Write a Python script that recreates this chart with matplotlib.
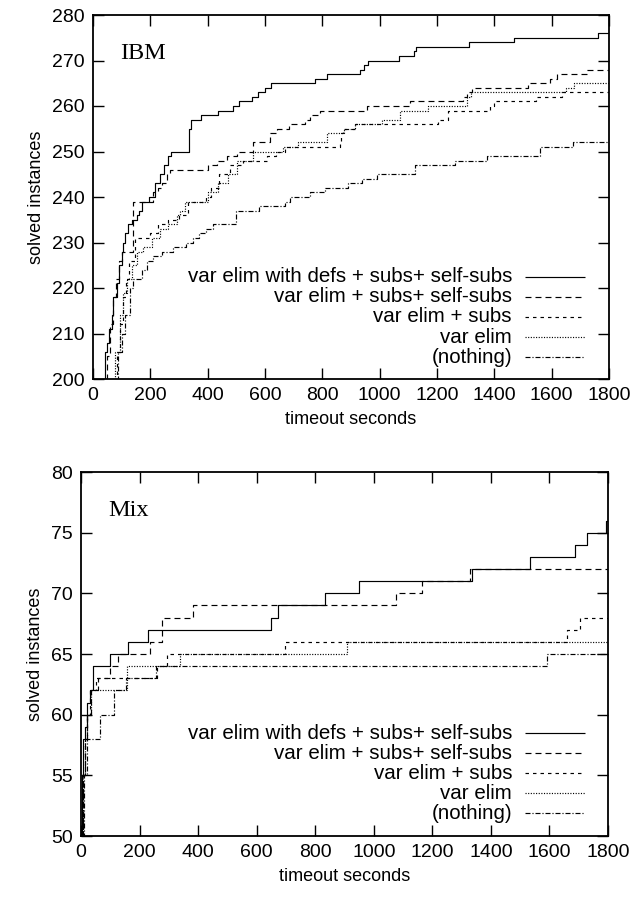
import matplotlib
matplotlib.use('Agg')
import matplotlib.pyplot as plt

plt.rcParams['font.family'] = ['Liberation Sans', 'DejaVu Sans']
plt.rcParams['lines.scale_dashes'] = False

labels = ["var elim with defs + subs+ self-subs", "var elim + subs+ self-subs",
          "var elim + subs", "var elim", "(nothing)"]

# ---- IBM ----
ibm_defs_x = [40, 42, 50, 56, 65, 71, 82, 92, 100, 106, 112, 121, 135, 152, 162, 170, 197, 216, 234, 248,
              260, 272, 334, 342, 377, 435, 490, 510, 553, 577, 600, 620, 775, 818, 932, 947, 958, 1067,
              1120, 1127, 1311, 1467, 1760]
ibm_defs_y = [200, 206, 208, 211, 214, 218, 221, 225, 228, 230, 232, 234, 235, 236, 237, 239, 240, 243, 245, 247,
              249, 250, 255, 257, 258, 259, 260, 261, 262, 263, 264, 265, 266, 267, 268, 269, 270, 271,
              272, 273, 274, 275, 276]

ibm_self_x = [45, 50, 60, 70, 80, 90, 100, 140, 210, 228, 240, 257, 269, 402, 431, 466, 501, 559, 618, 641,
              682, 740, 757, 792, 955, 1106, 1292, 1303, 1321, 1519, 1594, 1617, 1722]
ibm_self_y = [200, 205, 212, 218, 222, 226, 228, 239, 241, 242, 243, 245, 246, 247, 248, 249, 250, 252, 254, 255,
              256, 257, 258, 259, 260, 261, 262, 263, 264, 265, 266, 267, 268]

ibm_subs_x = [74, 85, 95, 105, 115, 125, 146, 199, 228, 260, 300, 330, 395, 410, 440, 478, 524, 606, 640, 670,
              862, 866, 873, 914, 1204, 1240, 1385, 1400, 1545, 1635]
ibm_subs_y = [200, 206, 212, 218, 222, 226, 231, 232, 234, 235, 236, 239, 240, 242, 245, 247, 248, 249, 250, 251,
              252, 254, 255, 256, 257, 259, 260, 261, 262, 263]

ibm_elim_x = [68, 77, 94, 106, 117, 135, 152, 176, 205, 234, 260, 292, 304, 321, 402, 437, 472, 501, 559, 664,
              716, 815, 874, 914, 1007, 1071, 1170, 1303, 1320, 1649, 1678]
ibm_elim_y = [200, 206, 214, 219, 222, 225, 228, 229, 231, 233, 234, 236, 237, 239, 241, 243, 245, 248, 250, 251,
              252, 254, 255, 256, 257, 259, 260, 262, 263, 264, 265]

ibm_none_x = [80, 88, 100, 112, 129, 141, 170, 187, 210, 240, 278, 325, 348, 371, 394, 417, 498, 580, 670, 687,
              757, 809, 891, 937, 990, 1123, 1263, 1373, 1559, 1676]
ibm_none_y = [200, 206, 210, 214, 220, 222, 224, 226, 227, 228, 229, 230, 231, 232, 233, 234, 237, 238, 239, 240,
              241, 242, 243, 244, 245, 247, 248, 249, 251, 252]

# ---- Mix ----
mix_defs_x = [2, 5, 8, 14, 19, 31, 42, 99, 162, 230, 648, 674, 834, 948, 1334, 1534, 1688, 1727, 1792]
mix_defs_y = [50, 55, 58, 59, 61, 62, 64, 65, 66, 67, 68, 69, 70, 71, 72, 73, 74, 75, 76]

mix_self_x = [3, 8, 12, 20, 35, 58, 98, 126, 235, 275, 383, 1075, 1164, 1330]
mix_self_y = [50, 55, 58, 60, 62, 63, 64, 65, 66, 68, 69, 70, 71, 72]

mix_subs_x = [4, 8, 12, 20, 30, 50, 258, 293, 697, 1659, 1705]
mix_subs_y = [50, 55, 58, 60, 62, 63, 64, 65, 66, 67, 68]

mix_elim_x = [3, 7, 12, 20, 35, 156, 338, 907]
mix_elim_y = [50, 55, 58, 60, 62, 64, 65, 66]

mix_none_x = [5, 10, 20, 64, 113, 155, 257, 1590]
mix_none_y = [50, 55, 58, 60, 62, 63, 64, 65]

xticks = list(range(0, 1801, 200))
ibm_yticks = list(range(200, 281, 10))
mix_yticks = list(range(50, 81, 5))

styles = ['-', (0, (4.3, 2.9)), (0, (2.5, 2.9)), (0, (0.8, 1.1)), (0, (3.6, 1.4, 0.8, 1.4))]

W, H = 635, 901
fig = plt.figure(figsize=(W / 100, H / 100), dpi=100)

def px_axes(l, r, t, b):
    return fig.add_axes([l / W, 1 - b / H, (r - l) / W, (b - t) / H])

ax1 = px_axes(93, 609, 15, 379)
ax2 = px_axes(81, 608, 472, 836)

def draw(ax, series, yticks, ylim, title, title_xy, leg_text_x, leg_line_x, leg_rows):
    for (xs, ys), ls in zip(series, styles):
        xx = list(xs) + [1800]
        yy = list(ys) + [ys[-1]]
        ax.plot(xx, yy, drawstyle='steps-post', color='black', lw=0.85, linestyle=ls,
                solid_capstyle='butt', dash_capstyle='butt')
    ax.set_xlim(0, 1800)
    ax.set_ylim(*ylim)
    ax.set_xticks(xticks)
    ax.set_yticks(yticks)
    ax.tick_params(direction='in', length=8, width=1.0, top=True, right=True,
                   labelsize=14, pad=6)
    for s in ax.spines.values():
        s.set_linewidth(1.3)
    ax.set_xlabel('timeout seconds', fontsize=13, labelpad=5)
    ax.set_ylabel('solved instances', fontsize=13, labelpad=5)
    ax.text(title_xy[0], title_xy[1], title, family=['Liberation Serif', 'DejaVu Serif'],
            fontsize=17.5, ha='left', va='baseline')
    for lab, ls, yr in zip(labels, styles, leg_rows):
        ax.text(leg_text_x, yr, lab, transform=ax.transAxes, ha='right', va='center', fontsize=14.8)
        ax.plot(leg_line_x, [yr, yr], transform=ax.transAxes, color='black', lw=0.85,
                linestyle=ls, solid_capstyle='butt', dash_capstyle='butt')

draw(ax1,
     [(ibm_defs_x, ibm_defs_y), (ibm_self_x, ibm_self_y), (ibm_subs_x, ibm_subs_y),
      (ibm_elim_x, ibm_elim_y), (ibm_none_x, ibm_none_y)],
     ibm_yticks, (200, 280), 'IBM', (94, 270.3),
     0.812, [0.837, 0.953], [0.281, 0.226, 0.171, 0.115, 0.060])

draw(ax2,
     [(mix_defs_x, mix_defs_y), (mix_self_x, mix_self_y), (mix_subs_x, mix_subs_y),
      (mix_elim_x, mix_elim_y), (mix_none_x, mix_none_y)],
     mix_yticks, (50, 80), 'Mix', (92, 76.4),
     0.818, [0.842, 0.956], [0.282, 0.227, 0.173, 0.118, 0.063])

fig.savefig('out.png', dpi=100)
